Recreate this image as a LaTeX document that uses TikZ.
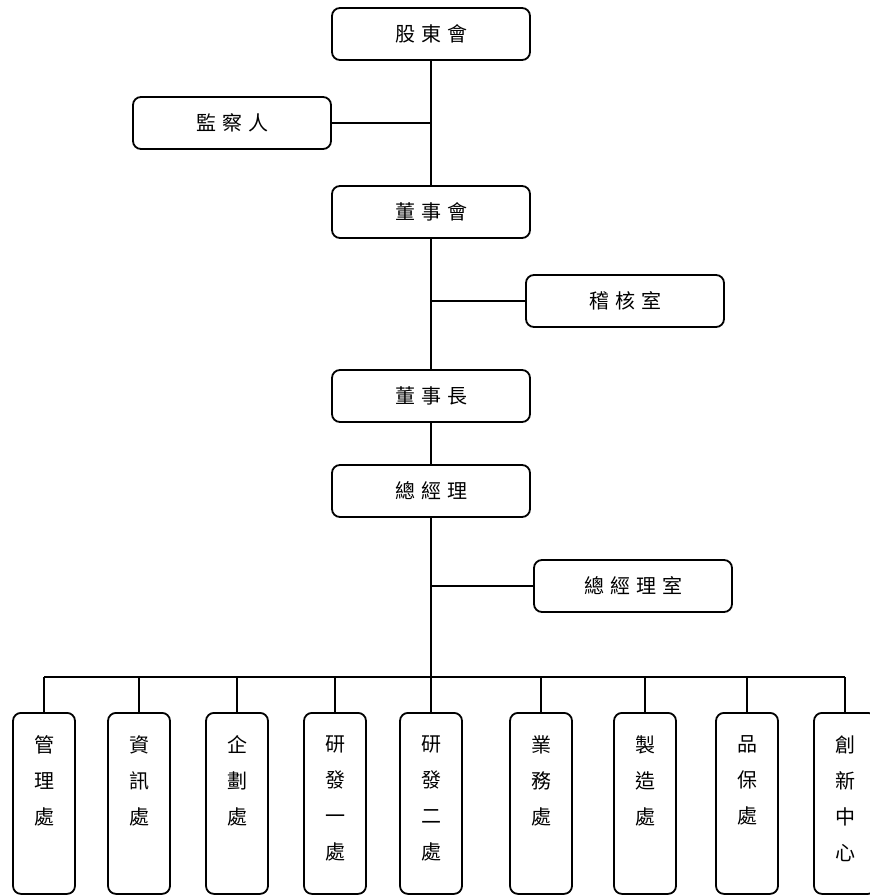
\documentclass[tikz,border=0pt]{standalone}
\usepackage{fontspec}
\setmainfont{Noto Sans CJK TC}
\newfontfamily\cjkwide{Noto Sans CJK TC}[LetterSpace=30]

\newcommand{\deptlabel}[1]{\parbox[c][68pt][t]{14pt}{\centering\fontsize{10}{18}\selectfont #1}}

\begin{document}
\begin{tikzpicture}[
  x=0.5pt, y=-0.5pt,
  unit/.style={draw, line width=0.9pt, rounded corners=4pt, minimum width=99pt,
    minimum height=26pt, inner sep=0pt, font=\cjkwide\fontsize{10}{12}\selectfont},
  dept/.style={draw, line width=0.9pt, rounded corners=4pt, minimum width=31pt,
    minimum height=90.5pt, inner sep=0pt, anchor=north},
  link/.style={line width=0.8pt},
]
  \useasboundingbox (0,0) rectangle (870,895);

  % upper chain
  \node[unit] (share) at (431,34) {股東會};
  \node[unit] (super) at (232,123) {監察人};
  \node[unit] (board) at (431,212) {董事會};
  \node[unit] (audit) at (625,301) {稽核室};
  \node[unit] (chair) at (431,396) {董事長};
  \node[unit] (gm) at (431,491) {總經理};
  \node[unit] (gmo) at (633,586) {總經理室};

  \draw[link] (share) -- (board);
  \draw[link] (super.east) -- (super.east -| share.south);
  \draw[link] (board) -- (chair);
  \draw[link] (audit.west) -- (audit.west -| board.south);
  \draw[link] (chair) -- (gm);
  \draw[link] (gmo.west) -- (gmo.west -| gm.south);

  % departments
  \coordinate (bus) at (0,677);
  \foreach \x/\n/\t in {44/mgmt/管\\理\\處, 139/info/資\\訊\\處, 237/plan/企\\劃\\處,
      335/rdone/研\\發\\一\\處, 431/rdtwo/研\\發\\二\\處, 541/sales/業\\務\\處,
      645/make/製\\造\\處, 747/qa/品\\保\\處, 845/inno/創\\新\\中\\心}{
    \node[dept] (\n) at (\x,712) {\deptlabel{\t}};
    \draw[link] (\n.north) -- (\n.north |- bus);
  }
  \draw[link] (mgmt.north |- bus) -- (inno.north |- bus);
  \draw[link] (gm.south) -- (rdtwo.north);
\end{tikzpicture}
\end{document}
